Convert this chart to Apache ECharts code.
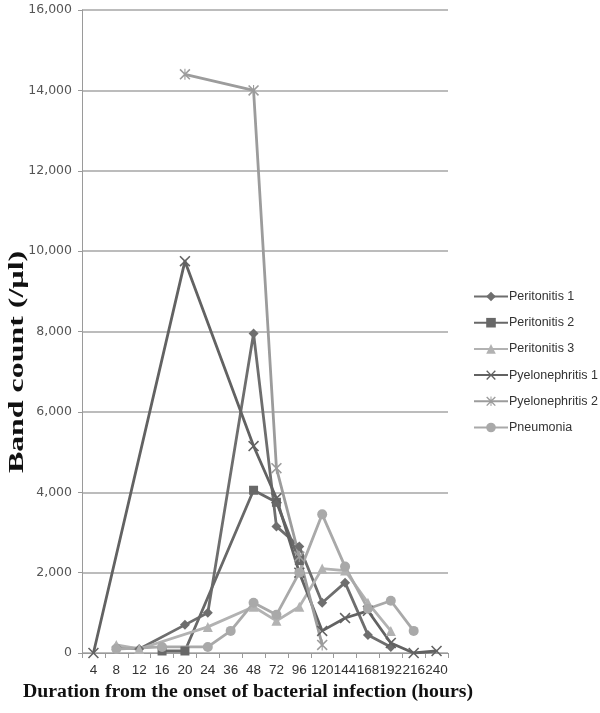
<!DOCTYPE html>
<html><head><meta charset="utf-8">
<script src="https://cdn.jsdelivr.net/npm/echarts@6/dist/echarts.min.js"></script>
<style>html,body{margin:0;padding:0;background:#fff}#c{width:600px;height:713px}</style>
</head><body><div id="c"></div>
<script>
var categories = ['4','8','12','16','20','24','36','48','72','96','120','144','168','192','216','240'];
var yTicks = [0, 2000, 4000, 6000, 8000, 10000, 12000, 14000, 16000];
var seriesNames = ['Peritonitis 1','Peritonitis 2','Peritonitis 3','Pyelonephritis 1','Pyelonephritis 2','Pneumonia'];
var peritonitis1 = [null,150,100,null,700,1000,null,7950,3150,2650,1250,1750,450,150,null,null];
var peritonitis2 = [null,null,null,50,50,null,null,4050,3750,2300,null,null,null,null,null,null];
var peritonitis3 = [null,200,100,null,null,650,null,1150,800,1150,2100,2050,1250,550,null,null];
var pyelonephritis1 = [0,null,null,null,9750,null,null,5150,3850,2000,550,870,1050,250,0,50];
var pyelonephritis2 = [null,null,null,null,14400,null,null,14000,4600,2400,200,null,null,null,null,null];
var pneumonia = [null,100,null,150,null,150,550,1250,950,2000,3450,2150,1100,1300,550,null];

var X_PATH = 'path://M0,1L1,0L5,4L9,0L10,1L6,5L10,9L9,10L5,6L1,10L0,9L4,5Z';
var AST_PATH = 'path://M0,1L1,0L5,4L9,0L10,1L6,5L10,9L9,10L5,6L1,10L0,9L4,5Z M4.5,0L5.5,0L5.5,10L4.5,10Z';

var styles = [
  {color:'#6e6e6e', symbol:'diamond', size:10},
  {color:'#686868', symbol:'rect', size:9},
  {color:'#b2b2b2', symbol:'triangle', size:10},
  {color:'#626262', symbol:X_PATH, size:11},
  {color:'#9c9c9c', symbol:AST_PATH, size:11},
  {color:'#a9a9a9', symbol:'circle', size:10}
];
var dataSets = [peritonitis1, peritonitis2, peritonitis3, pyelonephritis1, pyelonephritis2, pneumonia];

var series = dataSets.map(function(d, i){
  var s = styles[i];
  return {
    name: seriesNames[i], type:'line', data:d, connectNulls:true,
    symbol:s.symbol, symbolSize:s.size, showAllSymbol:true,
    lineStyle:{color:s.color, width:2.8},
    itemStyle:{color:s.color},
    emphasis:{disabled:true},
    animation:false
  };
});

var chart = echarts.init(document.getElementById('c'));
chart.setOption({
  animation:false,
  grid:{left:82, right:152, top:10, bottom:60, containLabel:false},
  legend:{
    orient:'vertical', left:468, top:285, itemGap:13.2, itemWidth:34, itemHeight:12,
    data:seriesNames,
    textStyle:{fontFamily:'Liberation Sans', fontSize:12.5, color:'#333', padding:[0,0,0,-4]}
  },
  xAxis:{
    type:'category', data:categories, boundaryGap:true,
    axisLine:{lineStyle:{color:'#9a9a9a', width:1}},
    axisTick:{show:true, alignWithLabel:false, length:5, lineStyle:{color:'#9a9a9a'}},
    axisLabel:{interval:0, fontFamily:'Liberation Sans', fontSize:13.5, color:'#333', margin:10}
  },
  yAxis:{
    type:'value', min:0, max:16000, interval:2000,
    axisLine:{show:true, lineStyle:{color:'#9a9a9a', width:1}},
    axisTick:{show:true, length:4, lineStyle:{color:'#9a9a9a'}},
    splitLine:{lineStyle:{color:'#a6a6a6', width:1.5}},
    axisLabel:{fontFamily:'DejaVu Sans', fontSize:12.5, color:'#555', margin:10,
      formatter:function(v){return v.toLocaleString('en-US');}}
  },
  graphic:[
    {type:'text', rotation:Math.PI/2, x:6, y:362, scaleX:1.45, scaleY:1,
      style:{text:'Band count (/\u00b5l)', fontFamily:'Liberation Serif', fontWeight:'bold', fontSize:22,
        fill:'#111', textAlign:'center', textVerticalAlign:'top'}},
    {type:'text', x:248, y:692, scaleX:1.1, scaleY:1.05,
      style:{text:'Duration from the onset of bacterial infection (hours)', fontFamily:'Liberation Serif', fontWeight:'bold', fontSize:18,
        fill:'#111', textAlign:'center', textVerticalAlign:'middle'}}
  ],
  series:series
});
</script></body></html>
